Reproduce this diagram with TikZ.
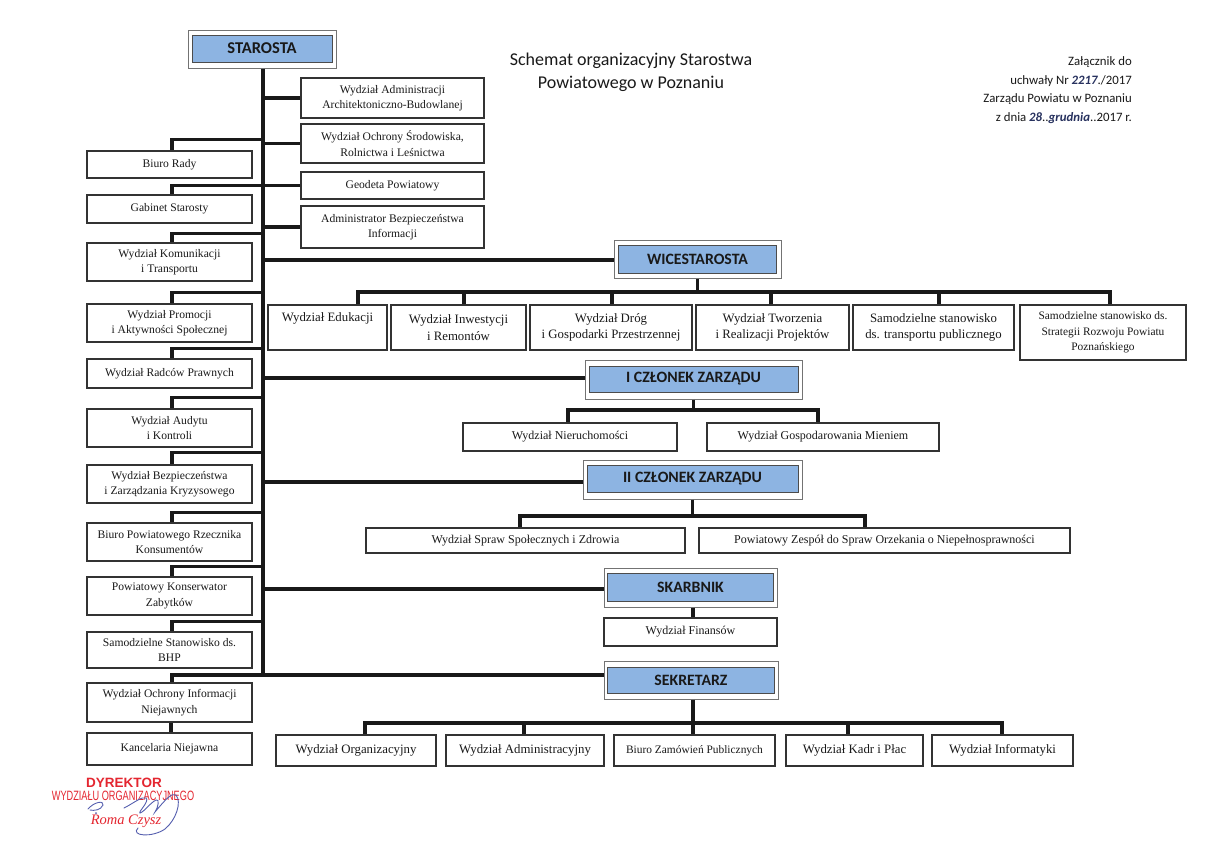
\documentclass[tikz,border=0pt]{standalone}
\usepackage{fontspec}
\setmainfont{Liberation Serif}
\newfontfamily\calibrifont{Carlito}
\newfontfamily\arialfont{Liberation Sans}
\newfontfamily\arialnarrow[FakeStretch=0.68]{Liberation Sans}
\definecolor{hblue}{RGB}{141,180,226}
\definecolor{ink}{RGB}{40,50,95}
\definecolor{stampred}{RGB}{228,38,48}
\definecolor{sigblue}{RGB}{85,95,175}
\newcommand\sizeS{\fontsize{11.6pt}{15.5pt}\selectfont}
\newcommand\sizeM{\fontsize{12pt}{16pt}\selectfont}
\newcommand\sizeL{\fontsize{12.8pt}{16.5pt}\selectfont}
\newcommand\handw[1]{{\color{ink}\itshape\bfseries #1}}
\begin{document}
\begin{tikzpicture}[x=1pt,y=-1pt,
  conn/.style={line width=3.1pt, draw=black!90},
  box/.style={draw=black!80, line width=1.1pt, fill=white, align=center, inner sep=0pt, text=black!90, font=\sizeS},
  hdout/.style={draw=black!55, line width=1pt, fill=white, inner sep=0pt},
  hdin/.style={draw=black!70, line width=0.9pt, fill=hblue, inner sep=0pt, text=black!90, font={\calibrifont\bfseries\fontsize{15.8pt}{18pt}\selectfont}},
]
\fill[white] (0,0) rectangle (1212,857);
\useasboundingbox (0,0) rectangle (1212,857);
\coordinate (sp) at (263,0);

% ---------- title texts ----------
\node[font={\calibrifont\fontsize{18pt}{23pt}\selectfont}, align=center, text=black!90] (title) at (631,72) {Schemat organizacyjny Starostwa\\Powiatowego w Poznaniu};
\node[anchor=east, align=right, inner sep=0pt, text=black!90, font={\calibrifont\fontsize{12.8pt}{18.5pt}\selectfont}] (zal) at (1132,90)
  {Załącznik do\\uchwały Nr \handw{2217}./2017\\Zarządu Powiatu w Poznaniu\\z dnia \handw{28}..\handw{grudnia}..2017 r.};

% ---------- heads ----------
\node[hdout, minimum width=148, minimum height=38] (starosta) at (262,49) {};
\node[hdin, minimum width=140, minimum height=27, font={\calibrifont\bfseries\fontsize{16.5pt}{18pt}\selectfont}] (starostaIn) at (262,48.5) {STAROSTA};

\node[hdout, minimum width=167, minimum height=38] (wice) at (697.5,259) {};
\node[hdin, minimum width=158, minimum height=28] (wiceIn) at (697.5,259) {WICESTAROSTA};

\node[hdout, minimum width=217, minimum height=39] (czl1) at (693.5,379.5) {};
\node[hdin, minimum width=209, minimum height=26] (czl1In) at (693.5,379) {I CZŁONEK ZARZĄDU};

\node[hdout, minimum width=219, minimum height=39] (czl2) at (692.5,479.5) {};
\node[hdin, minimum width=211, minimum height=27] (czl2In) at (692.5,478.5) {II CZŁONEK ZARZĄDU};

\node[hdout, minimum width=173, minimum height=39] (skarb) at (690.5,587.5) {};
\node[hdin, minimum width=166, minimum height=28] (skarbIn) at (690.5,587) {SKARBNIK};

\node[hdout, minimum width=174, minimum height=38] (sekr) at (691,680) {};
\node[hdin, minimum width=167, minimum height=26] (sekrIn) at (691,680) {SEKRETARZ};

% ---------- left column ----------
\node[box, minimum width=165, minimum height=27] (biuro) at (169.5,164.5) {Biuro Rady};
\node[box, minimum width=165, minimum height=28] (gabinet) at (169.5,209) {Gabinet Starosty};
\node[box, minimum width=165, minimum height=38] (komunik) at (169.5,262) {Wydział Komunikacji\\i Transportu};
\node[box, minimum width=165, minimum height=38] (promocji) at (169.5,323) {Wydział Promocji\\i Aktywności Społecznej};
\node[box, minimum width=165, minimum height=29] (radcow) at (169.5,373.5) {Wydział Radców Prawnych};
\node[box, minimum width=165, minimum height=38] (audytu) at (169.5,428) {Wydział Audytu\\i Kontroli};
\node[box, minimum width=165, minimum height=38] (bezp) at (169.5,484) {Wydział Bezpieczeństwa\\i Zarządzania Kryzysowego};
\node[box, minimum width=165, minimum height=38] (rzecznik) at (169.5,542) {Biuro Powiatowego Rzecznika\\Konsumentów};
\node[box, minimum width=165, minimum height=38] (konserw) at (169.5,596) {Powiatowy Konserwator\\Zabytków};
\node[box, minimum width=165, minimum height=36] (bhp) at (169.5,650) {Samodzielne Stanowisko ds.\\BHP};
\node[box, minimum width=165, minimum height=39] (ochrinf) at (169.5,702.5) {Wydział Ochrony Informacji\\Niejawnych};
\node[box, minimum width=165, minimum height=32] (kancel) at (169.5,749) {Kancelaria Niejawna};

% ---------- first right column ----------
\node[box, minimum width=183, minimum height=40] (wab) at (392.5,98) {Wydział Administracji\\Architektoniczno-Budowlanej};
\node[box, minimum width=183, minimum height=39] (wos) at (392.5,143.5) {Wydział Ochrony Środowiska,\\Rolnictwa i Leśnictwa};
\node[box, minimum width=183, minimum height=27] (geod) at (392.5,185.5) {Geodeta Powiatowy};
\node[box, minimum width=183, minimum height=42] (abi) at (392.5,227) {Administrator Bezpieczeństwa\\Informacji};

% ---------- WICESTAROSTA row ----------
\node[box, font=\sizeL, minimum width=119, minimum height=45] (edu) at (327.5,327.5) {Wydział Edukacji\\[-1pt]\strut};
\node[box, font=\sizeL, minimum width=135, minimum height=45] (inw) at (458.5,327.5) {Wydział Inwestycji\\i Remontów};
\node[box, font=\sizeL, minimum width=162, minimum height=45] (drog) at (611,327.5) {Wydział Dróg\\i Gospodarki Przestrzennej};
\node[box, font=\sizeL, minimum width=153, minimum height=45] (tworz) at (772.5,327.5) {Wydział Tworzenia\\i Realizacji Projektów};
\node[box, font=\sizeL, minimum width=161, minimum height=45] (transp) at (933.5,327.5) {Samodzielne stanowisko\\ds. transportu publicznego};
\node[box, font={\fontsize{11.4pt}{15.5pt}\selectfont}, minimum width=166, minimum height=55] (strat) at (1103,332.5) {Samodzielne stanowisko ds.\\Strategii Rozwoju Powiatu\\Poznańskiego};

% ---------- I czlonek row ----------
\node[box, font=\sizeM, minimum width=214, minimum height=28] (nier) at (570,437) {Wydział Nieruchomości};
\node[box, font=\sizeM, minimum width=232, minimum height=28] (gosp) at (823,437) {Wydział Gospodarowania Mieniem};

% ---------- II czlonek row ----------
\node[box, font=\sizeM, minimum width=319, minimum height=25] (spraw) at (525.5,540.5) {Wydział Spraw Społecznych i Zdrowia};
\node[box, font=\sizeM, minimum width=371, minimum height=25] (zesp) at (884.5,540.5) {Powiatowy Zespół do Spraw Orzekania o Niepełnosprawności};

% ---------- Skarbnik ----------
\node[box, font=\sizeM, minimum width=173, minimum height=28] (fin) at (690.5,632) {Wydział Finansów};

% ---------- Sekretarz row ----------
\node[box, font=\sizeL, minimum width=160, minimum height=31] (org) at (356,750.5) {Wydział Organizacyjny};
\node[box, font=\sizeL, minimum width=158, minimum height=31] (adm) at (525,750.5) {Wydział Administracyjny};
\node[box, font={\fontsize{11.4pt}{15pt}\selectfont}, minimum width=161, minimum height=31] (bzp) at (694.5,750.5) {Biuro Zamówień Publicznych};
\node[box, font=\sizeL, minimum width=137, minimum height=31] (kadr) at (854.5,750.5) {Wydział Kadr i Płac};
\node[box, font=\sizeL, minimum width=141, minimum height=31] (inf) at (1002.5,750.5) {Wydział Informatyki};

% ---------- connectors ----------
% spine
\draw[conn] (starosta.south -| sp) -- ([yshift=5pt]sekr.west -| sp);
% left elbows
\foreach \n/\d in {biuro/11, gabinet/9, komunik/9, promocji/11, radcow/10, audytu/11, bezp/12, rzecznik/10, konserw/10, bhp/10}
  \draw[conn] ([yshift=\d pt]\n.north -| sp) -| ([xshift=2.5pt]\n.north);
\draw[conn] ([yshift=5pt]sekr.west) -| ([xshift=2.5pt]ochrinf.north);
\draw[conn] ([xshift=1.5pt]ochrinf.south) -- ([xshift=1.5pt]kancel.north);
% right small boxes
\foreach \n in {wab, wos, geod, abi}
  \draw[conn] (\n.west -| sp) -- (\n.west);
% heads
\draw[conn] ([yshift=-1pt]wice.west -| sp) -- ([yshift=-1pt]wice.west);
\draw[conn] ([yshift=1.5pt]czl1.west -| sp) -- ([yshift=1.5pt]czl1.west);
\draw[conn] ([yshift=-2.5pt]czl2.west -| sp) -- ([yshift=-2.5pt]czl2.west);
\draw[conn] ([yshift=-1.5pt]skarb.west -| sp) -- ([yshift=-1.5pt]skarb.west);

% WICESTAROSTA bus
\coordinate (wbus) at (697,292);
\draw[conn] (wice.south) -- (wice.south |- wbus);
\draw[conn] ([xshift=30.5pt]edu.north) |- ([xshift=7pt]strat.north |- wbus) -- ([xshift=7pt]strat.north);
\foreach \n/\s in {inw/5.5, drog/1, tworz/-1.5, transp/5.5}
  \draw[conn] ([xshift=\s pt]\n.north) -- ([xshift=\s pt]\n.north |- wbus);

% I czlonek bus
\coordinate (ibus) at (693,410);
\draw[conn] (czl1.south) -- (czl1.south |- ibus);
\draw[conn] ([xshift=-2pt]nier.north) |- ([xshift=-5pt]gosp.north |- ibus) -- ([xshift=-5pt]gosp.north);

% II czlonek bus
\coordinate (iibus) at (693,516);
\draw[conn] (czl2.south) -- (czl2.south |- iibus);
\draw[conn] ([xshift=-5.5pt]spraw.north) |- ([xshift=-19.5pt]zesp.north |- iibus) -- ([xshift=-19.5pt]zesp.north);

% Skarbnik
\draw[conn] ([xshift=2.5pt]skarb.south) -- ([xshift=2.5pt]skarb.south |- fin.north);

% Sekretarz bus
\coordinate (sbus) at (693,723);
\draw[conn] ([xshift=2pt]sekr.south) -- ([xshift=-1.5pt]bzp.north);
\draw[conn] ([xshift=9pt]org.north) |- ([xshift=-0.5pt]inf.north |- sbus) -- ([xshift=-0.5pt]inf.north);
\foreach \n/\s in {adm/-1, kadr/-6.5}
  \draw[conn] ([xshift=\s pt]\n.north) -- ([xshift=\s pt]\n.north |- sbus);

% ---------- stamp ----------
\node[text=stampred, inner sep=0pt, font={\arialfont\bfseries\fontsize{13.5pt}{14pt}\selectfont}] (dyr) at (124,783) {DYREKTOR};
\node[text=stampred, inner sep=0pt, font={\arialnarrow\fontsize{13.5pt}{14pt}\selectfont}] (wyd) at (123,796) {WYDZIAŁU ORGANIZACYJNEGO};
\node[text=stampred, inner sep=0pt, font={\itshape\fontsize{14.5pt}{15pt}\selectfont}] (roma) at (126,821) {Roma Czysz};
% signature
\draw[sigblue, line width=0.9pt, line cap=round]
  (88,809) .. controls (94,802) and (104,800) .. (103,805) .. controls (101,810) and (94,811) .. (90,810);
\fill[sigblue] (96,813) circle (1pt);
\draw[sigblue, line width=0.9pt, line cap=round]
  (124,808) .. controls (134,803) and (142,796) .. (146,798) .. controls (150,801) and (138,812) .. (140,813)
  .. controls (144,812) and (150,803) .. (156,800) .. controls (160,798) and (158,808) .. (155,812)
  .. controls (165,800) and (172,792) .. (176,795) .. controls (182,802) and (176,820) .. (165,829)
  .. controls (152,838) and (130,836) .. (138,828);
\end{tikzpicture}
\end{document}
